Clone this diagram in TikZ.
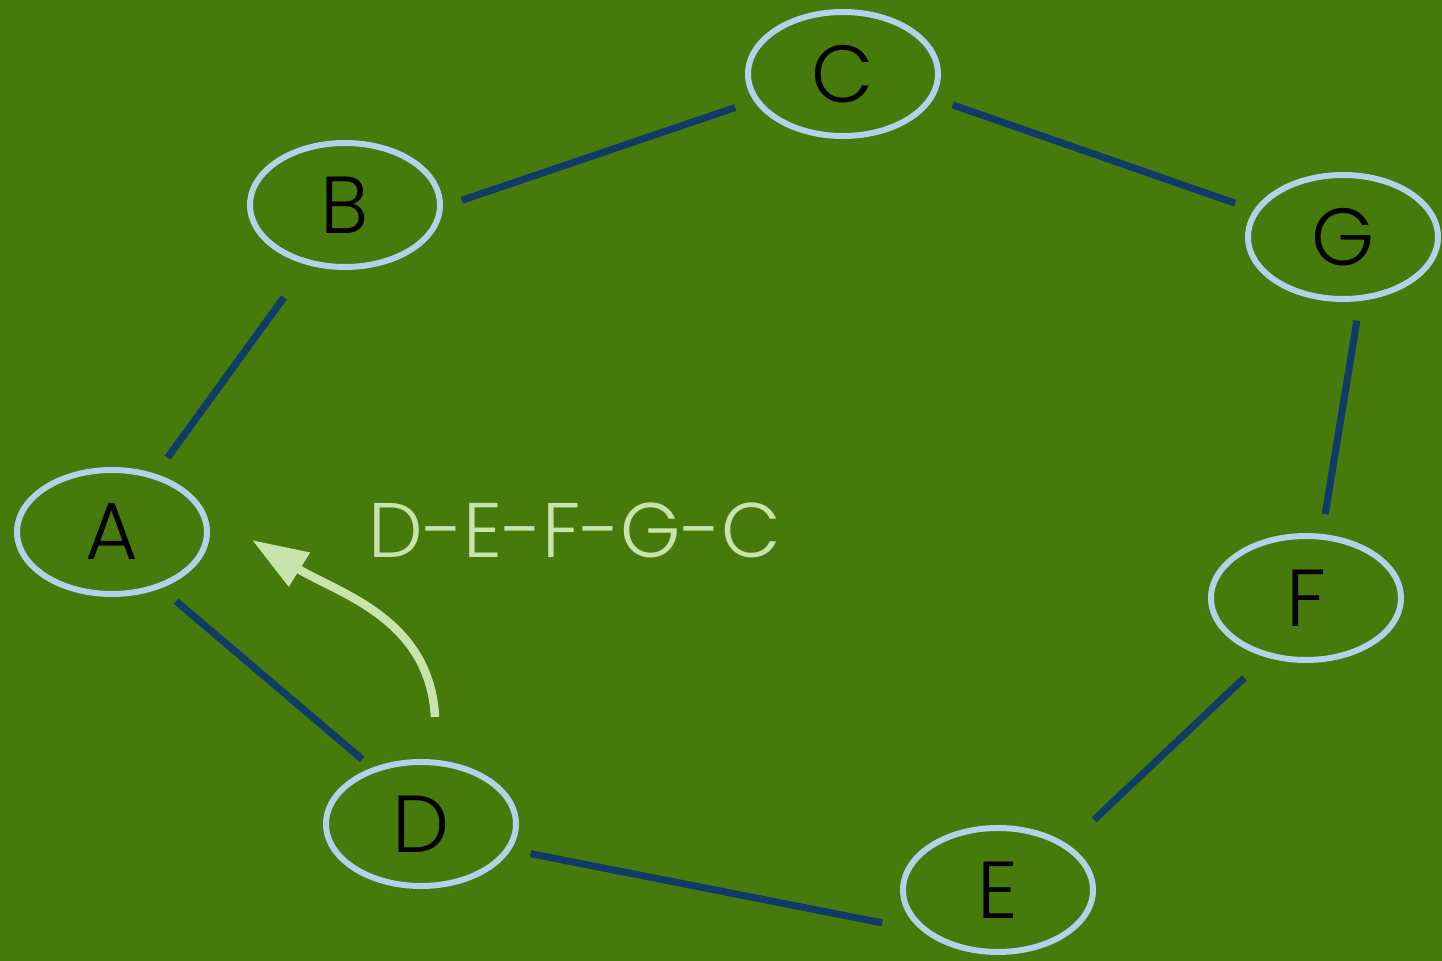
\documentclass[tikz,border=0pt]{standalone}
\usepackage{fontspec}
\setmainfont{Poppins Light}
\usetikzlibrary{shapes.geometric,arrows.meta}
\definecolor{bggreen}{RGB}{70,122,10}
\definecolor{ringblue}{RGB}{178,210,236}
\definecolor{edgeblue}{RGB}{16,58,104}
\definecolor{paleleaf}{RGB}{198,228,172}
\tikzset{
  vert/.style={ellipse, draw=ringblue, line width=1.7pt, minimum width=1.9cm,
    minimum height=1.24cm, inner sep=0pt, font=\fontsize{23}{23}\selectfont},
  link/.style={draw=edgeblue, line width=2pt},
}

\begin{document}
\begin{tikzpicture}
      \fill[bggreen] (0,0) rectangle (14.42,9.61);
      \useasboundingbox (0,0) rectangle (14.42,9.61);

      \node[vert] (A) at (1.12,4.29) {A};
      \node[vert] (B) at (3.45,7.56) {B};
      \node[vert] (C) at (8.43,8.87) {C};
      \node[vert] (G) at (13.43,7.24) {G};
      \node[vert] (F) at (13.06,3.63) {F};
      \node[vert] (E) at (9.98,0.71) {E};
      \node[vert] (D) at (4.21,1.37) {D};

      \foreach \u/\a/\s/\v/\b/\t in {A/53/0.2/B/238/0.4, A/311/0.2/D/131/0.13,
                                     B/359/0.2/C/197/0.2, C/345/0.2/G/163/0.2,
                                     G/285/0.2/F/76/0.2, F/236/0.3/E/33/0.36,
                                     D/344/0.2/E/208/0.4}
        \draw[link, shorten <=\s cm, shorten >=\t cm] (\u.\a) -- (\v.\b);

      \coordinate (tail) at (4.35,2.44);
      \coordinate (head) at (2.52,4.21);
      \draw[paleleaf, line width=2.4pt, -{Triangle[length=0.56cm,width=0.38cm]}]
        (tail) to[out=93,in=-32] (head);
      \node[text=paleleaf, font=\fontsize{22}{22}\selectfont] (route) at (5.75,4.31) {D-E-F-G-C};
    \end{tikzpicture}
\end{document}
